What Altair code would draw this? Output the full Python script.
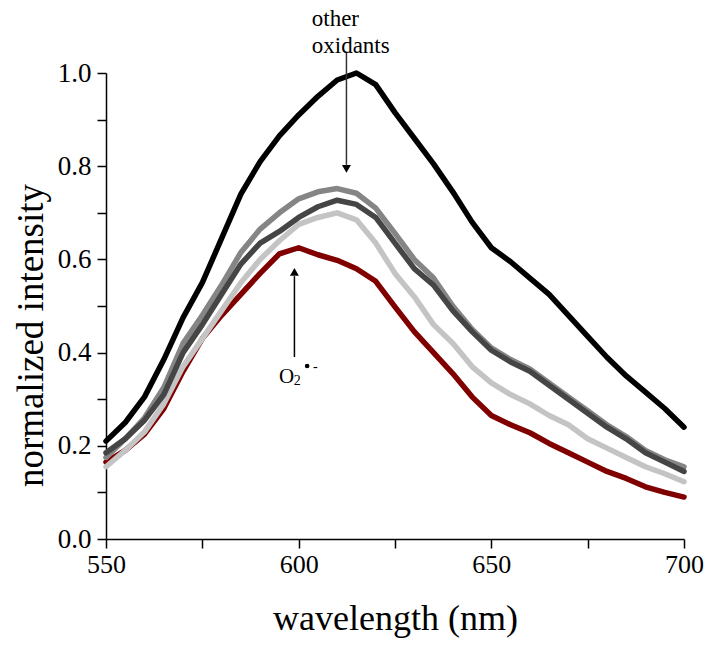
import altair as alt
import pandas as pd

# wavelength (nm)
wavelength = [550, 555, 560, 565, 570, 575, 580, 585, 590, 595, 600, 605, 610, 615, 620,
              625, 630, 635, 640, 645, 650, 655, 660, 665, 670, 675, 680, 685, 690, 695, 700]

black_vals = [0.21, 0.25, 0.305, 0.385, 0.475, 0.55, 0.645, 0.74, 0.81, 0.865, 0.91, 0.95, 0.985, 1.0, 0.975,
              0.915, 0.86, 0.805, 0.745, 0.68, 0.625, 0.595, 0.56, 0.525, 0.48, 0.435, 0.39, 0.35, 0.315, 0.28, 0.24]
mid_gray_vals = [0.175, 0.215, 0.26, 0.325, 0.42, 0.48, 0.545, 0.615, 0.665, 0.70, 0.73, 0.745, 0.752, 0.742, 0.71,
                 0.656, 0.60, 0.56, 0.50, 0.45, 0.41, 0.385, 0.365, 0.335, 0.305, 0.275, 0.245, 0.22, 0.19, 0.17, 0.155]
dark_gray_vals = [0.185, 0.215, 0.255, 0.31, 0.40, 0.46, 0.525, 0.59, 0.635, 0.66, 0.69, 0.713, 0.727, 0.718, 0.69,
                  0.635, 0.58, 0.545, 0.49, 0.445, 0.405, 0.38, 0.36, 0.33, 0.30, 0.27, 0.24, 0.215, 0.185, 0.165, 0.145]
light_gray_vals = [0.155, 0.19, 0.23, 0.29, 0.37, 0.43, 0.49, 0.55, 0.60, 0.64, 0.675, 0.69, 0.70, 0.685, 0.635,
                   0.57, 0.52, 0.46, 0.42, 0.37, 0.335, 0.31, 0.29, 0.265, 0.245, 0.215, 0.195, 0.175, 0.155, 0.14, 0.123]
red_vals = [0.165, 0.19, 0.225, 0.28, 0.36, 0.43, 0.48, 0.525, 0.57, 0.612, 0.625, 0.61, 0.598, 0.58, 0.553,
            0.498, 0.445, 0.40, 0.355, 0.305, 0.265, 0.245, 0.228, 0.205, 0.185, 0.165, 0.145, 0.13, 0.112, 0.10, 0.09]

series_names = ["O2 superoxide", "light gray", "mid gray", "dark gray", "black"]
series_values = [red_vals, light_gray_vals, mid_gray_vals, dark_gray_vals, black_vals]
series_colors = ["#800000", "#c4c4c4", "#858585", "#454545", "#000000"]

x_ticks = [550, 575, 600, 625, 650, 675, 700]
y_ticks = [0.0, 0.1, 0.2, 0.3, 0.4, 0.5, 0.6, 0.7, 0.8, 0.9, 1.0]

FONT = "Liberation Serif"

x_scale = alt.Scale(domain=[550, 700], nice=False, zero=False)
y_scale = alt.Scale(domain=[0, 1.0], nice=False)

x_axis = alt.Axis(values=x_ticks, labelExpr="datum.value % 50 == 0 ? datum.label : ''",
                  title="wavelength (nm)", titleFontSize=36, titleFont=FONT, titleFontWeight="normal",
                  titleY=90, titleBaseline="alphabetic", titleColor="black",
                  labelFont=FONT, labelFontSize=26, labelColor="black", labelPadding=3,
                  tickSize=9, tickWidth=1.5, tickColor="black", domainColor="black", domainWidth=1.5,
                  grid=False, labelFlush=False)
y_axis = alt.Axis(values=y_ticks,
                  labelExpr="round(datum.value*10) % 2 == 0 ? format(datum.value, '.1f') : ''",
                  title="normalized intensity", titleFontSize=37, titleFont=FONT, titleFontWeight="normal",
                  titleX=-64, titleY=262, titleAngle=-90, titleAlign="center", titleBaseline="alphabetic",
                  titleColor="black",
                  labelFont=FONT, labelFontSize=27, labelColor="black", labelPadding=6,
                  tickSize=9, tickWidth=1.5, tickColor="black", domainColor="black", domainWidth=1.5,
                  grid=False, labelFlush=False)


def ex(field):
    return alt.X(field, scale=x_scale, axis=x_axis)


def ey(field):
    return alt.Y(field, scale=y_scale, axis=y_axis)


layers = []
for name, vals, col in zip(series_names, series_values, series_colors):
    df = pd.DataFrame({"wavelength": wavelength, "value": vals, "series": name})
    layers.append(
        alt.Chart(df).mark_line(color=col, strokeWidth=5.5, strokeJoin="round", strokeCap="round")
        .encode(x=ex("wavelength:Q"), y=ey("value:Q"))
    )

# annotation arrows
arrow_lines = pd.DataFrame({
    "wavelength": [612.4, 598.9],
    "value": [1.043, 0.3906],
    "value2": [0.803, 0.564],
    "c": ["#333333", "#000000"],
})
arrow_heads = pd.DataFrame({
    "wavelength": [612.4, 598.9],
    "value": [0.794, 0.573],
    "shape": ["triangle-down", "triangle-up"],
})
rules = alt.Chart(arrow_lines).mark_rule(strokeWidth=1.5).encode(
    x=ex("wavelength:Q"), y=ey("value:Q"), y2="value2:Q",
    color=alt.Color("c:N", scale=None))
heads = alt.Chart(arrow_heads).mark_point(filled=True, size=80, color="black", opacity=1).encode(
    x=ex("wavelength:Q"), y=ey("value:Q"),
    shape=alt.Shape("shape:N", scale=None))

label_df = pd.DataFrame({
    "wavelength": [603.4, 603.4],
    "value": [1.100, 1.043],
    "t": ["other", "oxidants"],
})
labels = alt.Chart(label_df).mark_text(font=FONT, fontSize=23, align="left", baseline="alphabetic",
                                       color="black").encode(
    x=ex("wavelength:Q"), y=ey("value:Q"), text="t:N")

o_df = pd.DataFrame({"wavelength": [594.9], "value": [0.3354], "t": ["O"]})
o_text = alt.Chart(o_df).mark_text(font=FONT, fontSize=21, align="left", baseline="alphabetic",
                                   color="black").encode(
    x=ex("wavelength:Q"), y=ey("value:Q"), text="t:N")
sub_df = pd.DataFrame({"wavelength": [598.7, 603.7], "value": [0.3305, 0.360], "t": ["2", "-"]})
sub_text = alt.Chart(sub_df).mark_text(font=FONT, fontSize=14, align="left", baseline="alphabetic",
                                       color="black").encode(
    x=ex("wavelength:Q"), y=ey("value:Q"), text="t:N")
dot_df = pd.DataFrame({"wavelength": [602.2], "value": [0.3712]})
dot = alt.Chart(dot_df).mark_point(filled=True, shape="circle", size=22, color="black", opacity=1).encode(
    x=ex("wavelength:Q"), y=ey("value:Q"))

chart = alt.layer(*layers, rules, heads, labels, o_text, sub_text, dot).properties(
    width=578, height=466,
    autosize=alt.AutoSizeParams(type="none"),
    padding={"left": 98, "top": 65, "right": 21, "bottom": 100},
).configure(background="white").configure_view(stroke=None)

chart.save("out.html", embed_options={"renderer": "svg", "actions": False})
